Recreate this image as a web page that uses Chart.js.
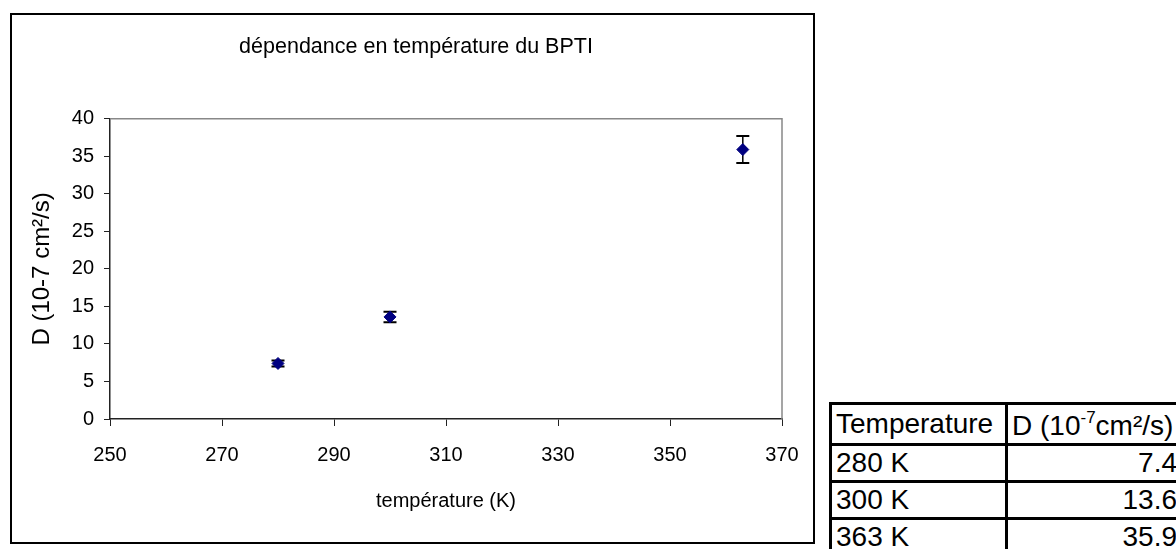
<!DOCTYPE html>
<html>
<head>
<meta charset="utf-8">
<script src="https://cdn.jsdelivr.net/npm/chart.js@4"></script>
<style>
  body { margin: 0; width: 1176px; height: 549px; overflow: hidden; background: #fff; position: relative; font-family: "Liberation Sans", Arial, sans-serif; }
  #frame { position: absolute; left: 10px; top: 13px; width: 801px; height: 527px; border: 2px solid #000; }
  #chart { position: absolute; left: 12px; top: 15px; }
  #values { position: absolute; left: 829px; top: 402px; border-collapse: collapse; table-layout: fixed; width: 352px; font-size: 28px; line-height: 1; color: #000; }
  #values td { border: 3px solid #000; padding: 0 3px 0 4px; white-space: nowrap; overflow: hidden; vertical-align: middle; }
  #values tr.head td { height: 38px; }
  #values tr.row td { height: 34px; }
  #values td.num { text-align: right; padding-right: 4px; }
</style>
</head>
<body>
<div id="frame"></div>
<canvas id="chart" width="808" height="527"></canvas>
<table id="values"><colgroup><col style="width:176px"><col style="width:176px"></colgroup><tbody></tbody></table>
<script>
// data
const temperatures = [280, 300, 363];
const diffusion = [7.4, 13.6, 35.9];
const errors = [0.4, 0.7, 1.8];

const xMin = 250, xMax = 370, xStep = 20;
const yMin = 0, yMax = 40, yStep = 5;

const chartTitle = "dépendance en température du BPTI";
const xTitle = "température (K)";
const yTitle = "D (10-7 cm²/s)";

const fontFamily = '"Liberation Sans", Arial, sans-serif';

// table next to the chart
const tbody = document.querySelector("#values tbody");
tbody.innerHTML =
    '<tr class="head"><td>Temperature</td><td>D (10<sup style="font-size:17px;vertical-align:12px">-7</sup>cm²/s)</td></tr>' +
    temperatures.map((t, i) => '<tr class="row"><td>' + t + ' K</td><td class="num">' + diffusion[i] + "</td></tr>").join("");

// gray top / right edge of the plot area
const plotEdges = {
    id: "plotEdges",
    beforeDatasetsDraw(chart) {
        const { ctx, chartArea } = chart;
        ctx.save();
        ctx.strokeStyle = "#888";
        ctx.lineWidth = 1.5;
        ctx.beginPath();
        ctx.moveTo(chartArea.left, chartArea.top);
        ctx.lineTo(chartArea.right, chartArea.top);
        ctx.lineTo(chartArea.right, chartArea.bottom);
        ctx.stroke();
        ctx.restore();
    },
};

// error bars through the chart scales
const errorBars = {
    id: "errorBars",
    beforeDatasetsDraw(chart) {
        const { ctx, scales } = chart;
        ctx.save();
        ctx.strokeStyle = "#000";
        temperatures.forEach((t, i) => {
            const x = scales.x.getPixelForValue(t);
            const top = scales.y.getPixelForValue(diffusion[i] + errors[i]);
            const bottom = scales.y.getPixelForValue(diffusion[i] - errors[i]);
            ctx.lineWidth = 1.5;
            ctx.beginPath();
            ctx.moveTo(x, top);
            ctx.lineTo(x, bottom);
            ctx.stroke();
            ctx.lineWidth = 2;
            ctx.beginPath();
            ctx.moveTo(x - 6.5, top);
            ctx.lineTo(x + 6.5, top);
            ctx.moveTo(x - 6.5, bottom);
            ctx.lineTo(x + 6.5, bottom);
            ctx.stroke();
        });
        ctx.restore();
    },
};

new Chart(document.getElementById("chart"), {
    type: "scatter",
    data: {
        datasets: [
            {
                data: temperatures.map((t, i) => ({ x: t, y: diffusion[i] })),
                pointStyle: "rectRot",
                pointRadius: 6,
                backgroundColor: "#000080",
                borderColor: "#000080",
                borderWidth: 1,
            },
        ],
    },
    options: {
        responsive: false,
        animation: false,
        devicePixelRatio: 1,
        layout: { padding: 0 },
        plugins: {
            legend: { display: false },
            tooltip: { enabled: false },
            title: {
                display: true,
                text: chartTitle,
                color: "#000",
                font: { family: fontFamily, size: 21.5, weight: "normal" },
                padding: { top: 19, bottom: 59 },
            },
        },
        scales: {
            x: {
                type: "linear",
                min: xMin,
                max: xMax,
                ticks: { stepSize: xStep, color: "#000", font: { family: fontFamily, size: 20 }, padding: 17 },
                grid: { drawOnChartArea: false, drawTicks: true, tickLength: 7, color: "#222" },
                border: { color: "#222", width: 1.5 },
                title: {
                    display: true,
                    text: xTitle,
                    color: "#000",
                    font: { family: fontFamily, size: 20 },
                    padding: { top: 0, bottom: 29 },
                },
                afterFit(scale) {
                    scale.height = 123;
                },
            },
            y: {
                min: yMin,
                max: yMax,
                ticks: { stepSize: yStep, color: "#000", font: { family: fontFamily, size: 20 }, padding: 10 },
                grid: { drawOnChartArea: false, drawTicks: true, tickLength: 6, color: "#222" },
                border: { color: "#222", width: 1.5 },
                title: {
                    display: true,
                    text: yTitle,
                    color: "#000",
                    font: { family: fontFamily, size: 24 },
                    padding: { top: 16, bottom: 0 },
                },
                afterFit(scale) {
                    scale.width = 98;
                },
            },
            // empty right axis, only keeps the space right of the plot
            y2: {
                position: "right",
                display: true,
                grid: { display: false },
                ticks: { display: false },
                border: { display: false },
                afterFit(scale) {
                    scale.width = 38;
                },
            },
        },
    },
    plugins: [plotEdges, errorBars],
});
</script>
</body>
</html>
